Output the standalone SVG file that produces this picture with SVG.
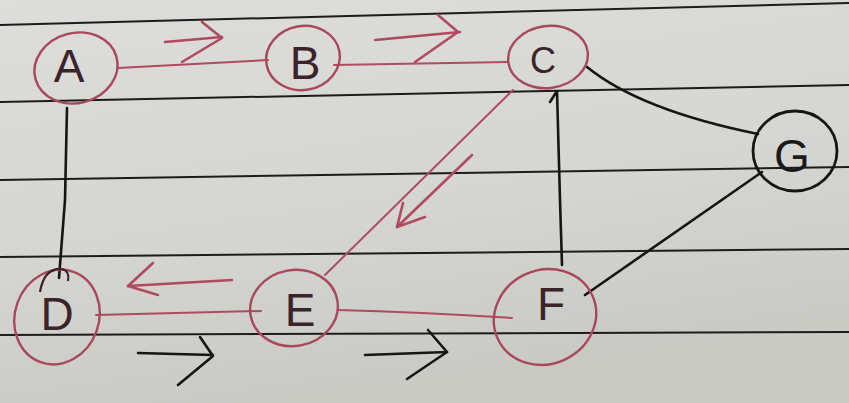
<svg xmlns="http://www.w3.org/2000/svg" width="849" height="403" viewBox="0 0 849 403">
  <defs>
    <linearGradient id="paper" x1="0" y1="0" x2="0.3" y2="1">
      <stop offset="0" stop-color="#dddddb"/>
      <stop offset="0.6" stop-color="#d5d5d1"/>
      <stop offset="1" stop-color="#cacac5"/>
    </linearGradient>
    <style>
      .rule { stroke: #1c1c1c; stroke-width: 2; fill: none; }
      .red { stroke: #b04a5e; stroke-width: 2; fill: none; stroke-linecap: round; }
      .blk { stroke: #151515; stroke-width: 2.6; fill: none; stroke-linecap: round; stroke-linejoin: round; }
      .redArrow { stroke: #b04a5e; stroke-width: 2.6; fill: none; stroke-linecap: round; stroke-linejoin: round; }
      .ring { stroke: #a8485a; stroke-width: 2.4; fill: none; }
      .ringBlk { stroke: #151515; stroke-width: 2.8; fill: none; }
      .lbl { font-family: "Liberation Sans", "DejaVu Sans", sans-serif; font-size: 46px; fill: #3b2429; text-anchor: middle; dominant-baseline: central; }
    </style>
  </defs>

  <rect width="849" height="403" fill="url(#paper)"/>

  <g id="ruled-lines">
    <line class="rule" x1="0" y1="25" x2="849" y2="3"/>
    <line class="rule" x1="0" y1="102" x2="849" y2="85"/>
    <line class="rule" x1="0" y1="180" x2="849" y2="167"/>
    <line class="rule" x1="0" y1="257" x2="849" y2="249"/>
    <line class="rule" x1="0" y1="335" x2="849" y2="332"/>
  </g>

  <g id="connectors">
    <path id="edge-A-B" class="red" d="M118,68 L268,60"/>
    <path id="edge-B-C" class="red" d="M334,65 L508,62"/>
    <path id="edge-C-E" class="red" d="M513,90 L325,275"/>
    <path id="edge-D-E" class="red" d="M96,315 L261,311"/>
    <path id="edge-E-F" class="red" d="M338,310 Q420,312 512,318"/>
    <path id="edge-A-D" class="blk" d="M67,108 L65,200 L59,278"/>
    <path id="edge-C-F" class="blk" d="M550,102 L557,91 L560,200 L562,265"/>
    <path id="edge-C-G" class="blk" d="M587,67 Q640,110 758,134"/>
    <path id="edge-G-F" class="blk" d="M762,172 L585,295"/>
  </g>

  <g id="direction-arrows">
    <polyline class="redArrow" points="165,42 222,37"/>
    <polyline class="redArrow" points="202,22 222,38 182,62"/>
    <polyline class="redArrow" points="375,40 460,32"/>
    <polyline class="redArrow" points="438,15 458,32 415,62"/>
    <polyline class="redArrow" points="472,155 397,227"/>
    <polyline class="redArrow" points="403,203 397,227 425,217"/>
    <polyline class="redArrow" points="232,280 128,286"/>
    <polyline class="redArrow" points="153,263 128,286 158,295"/>
    <polyline class="blk" points="138,353 213,355"/>
    <polyline class="blk" points="200,337 213,356 178,385"/>
    <polyline class="blk" points="365,355 447,352"/>
    <polyline class="blk" points="428,330 447,352 407,379"/>
  </g>

  <g id="node-A">
    <ellipse class="ring" cx="76" cy="68" rx="42" ry="35" transform="rotate(-15 76 68)"/>
    <text class="lbl" x="69" y="66">A</text>
  </g>
  <g id="node-B">
    <ellipse class="ring" cx="303" cy="58" rx="37" ry="32" transform="rotate(-10 303 58)"/>
    <text class="lbl" x="305" y="63">B</text>
  </g>
  <g id="node-C">
    <ellipse class="ring" cx="548" cy="57" rx="40" ry="31" transform="rotate(-8 548 57)"/>
    <text class="lbl" x="543" y="60" style="font-size:36px">C</text>
  </g>
  <g id="node-G">
    <ellipse class="ringBlk" cx="795" cy="151" rx="42" ry="40"/>
    <text class="lbl" x="792" y="156" style="fill:#1a1a1a">G</text>
  </g>
  <g id="node-D">
    <ellipse class="ring" cx="57" cy="317" rx="42" ry="48" transform="rotate(20 57 317)"/>
    <path d="M40,292 Q44,268 62,269 Q70,271 68,281" stroke="#3a2228" stroke-width="2.2" fill="none"/>
    <text class="lbl" x="57" y="314">D</text>
  </g>
  <g id="node-E">
    <ellipse class="ring" cx="294" cy="308" rx="44" ry="38" transform="rotate(-10 294 308)"/>
    <text class="lbl" x="300" y="310">E</text>
  </g>
  <g id="node-F">
    <ellipse class="ring" cx="545" cy="317" rx="52" ry="47" transform="rotate(-25 545 317)"/>
    <text class="lbl" x="551" y="304">F</text>
  </g>
</svg>
